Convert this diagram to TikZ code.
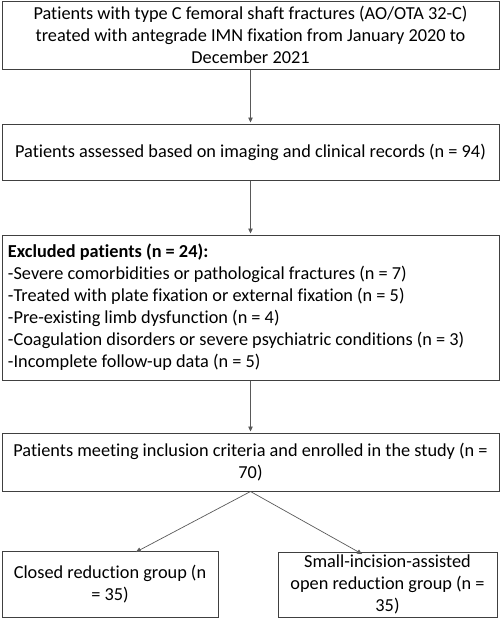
\documentclass[tikz,border=0pt]{standalone}
\usepackage{fontspec}
\setmainfont[Ligatures=NoCommon]{Carlito}
\usetikzlibrary{arrows.meta}
\begin{document}
\begin{tikzpicture}[x=1pt,y=-1pt,
  box/.style={draw=black!75,line width=1pt,inner sep=0pt,font=\fontsize{18.3}{22}\selectfont},
  conn/.style={draw=black!65,line width=0.7pt,-{Triangle[length=5pt,width=4.5pt]},shorten >=1pt}]
\useasboundingbox (0,0) rectangle (500,619);
\node[box,minimum width=497pt,minimum height=68pt,align=center] (b1) at (250.5,35)
  {Patients with type C femoral shaft fractures (AO/OTA 32-C)\\treated with antegrade IMN fixation from January 2020 to\\December 2021};
\node[box,minimum width=497pt,minimum height=56pt,align=center] (b2) at (250.5,152)
  {Patients assessed based on imaging and clinical records (n = 94)};
\node[box,minimum width=497pt,minimum height=145pt,align=flush left,text width=485pt] (b3) at (250.5,307.5)
  {\textbf{Excluded patients (n = 24):}\\-Severe comorbidities or pathological fractures (n = 7)\\-Treated with plate fixation or external fixation (n = 5)\\-Pre-existing limb dysfunction (n = 4)\\-Coagulation disorders or severe psychiatric conditions (n = 3)\\-Incomplete follow-up data (n = 5)};
\node[box,minimum width=497pt,minimum height=58pt,align=center] (b4) at (250.5,462)
  {Patients meeting inclusion criteria and enrolled in the study (n =\\70)};
\node[box,minimum width=216pt,minimum height=66pt,align=center] (b5) at (110,584)
  {Closed reduction group (n\\= 35)};
\node[box,minimum width=219pt,minimum height=65pt,align=center] (b6) at (387.5,584.5)
  {Small-incision-assisted\\open reduction group (n =\\35)};
\coordinate (t5) at ([xshift=25pt,yshift=-2pt]b5.north);
\coordinate (t6) at ([xshift=-24.5pt,yshift=-3pt]b6.north);
\draw[conn] (b1.south) -- (b2.north);
\draw[conn] (b2.south) -- (b3.north);
\draw[conn] (b3.south) -- (b4.north);
\draw[conn] (b4.south) -- (t5);
\draw[conn] (b4.south) -- (t6);
\end{tikzpicture}
\end{document}
